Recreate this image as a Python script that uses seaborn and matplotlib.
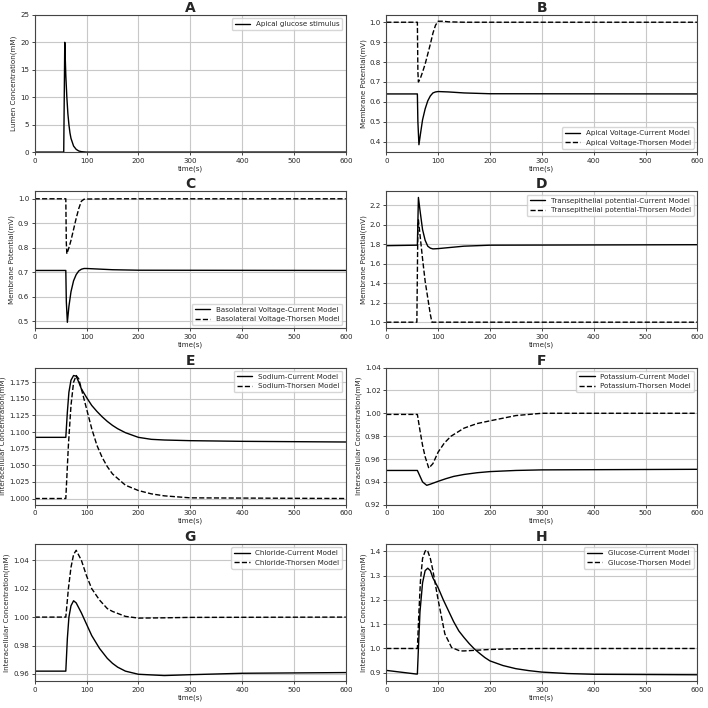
import numpy as np
import pandas as pd
import matplotlib
matplotlib.use("Agg")
import matplotlib.pyplot as plt
import seaborn as sns

###### Data

# A - apical glucose stimulus
t_stim = [0, 56, 58, 60, 62, 64, 66, 68, 70, 75, 80, 85, 90, 100, 600]
stim = [0, 0, 20, 14, 10, 7, 5, 3.5, 2.5, 1.1, 0.5, 0.2, 0.08, 0, 0]

# B - apical voltage
t_ap_cur = [0, 60, 61, 63, 66, 70, 75, 80, 85, 90, 95, 100, 120, 150, 200, 600]
ap_cur = [0.64, 0.64, 0.50, 0.385, 0.44, 0.51, 0.565, 0.605, 0.63, 0.645, 0.65, 0.652, 0.65, 0.645, 0.641, 0.64]
t_ap_tho = [0, 60, 61, 62, 66, 70, 75, 80, 85, 90, 95, 100, 110, 120, 150, 600]
ap_tho = [1.0, 1.0, 0.75, 0.70, 0.72, 0.75, 0.79, 0.84, 0.89, 0.945, 0.985, 1.005, 1.005, 1.002, 1.0, 1.0]

# C - basolateral voltage
t_bl_cur = [0, 60, 61, 63, 66, 70, 75, 80, 85, 90, 95, 100, 120, 150, 200, 600]
bl_cur = [0.707, 0.707, 0.58, 0.495, 0.56, 0.62, 0.665, 0.69, 0.705, 0.712, 0.715, 0.715, 0.713, 0.71, 0.708, 0.707]
t_bl_tho = [0, 60, 61, 62, 66, 70, 75, 80, 85, 90, 95, 100, 150, 600]
bl_tho = [1.0, 1.0, 0.82, 0.775, 0.80, 0.83, 0.875, 0.92, 0.96, 0.99, 0.998, 0.999, 1.0, 1.0]

# D - transepithelial potential
t_te_cur = [0, 58, 60, 62, 65, 70, 75, 80, 85, 90, 100, 120, 150, 200, 600]
te_cur = [1.785, 1.79, 1.79, 2.28, 2.15, 1.95, 1.84, 1.78, 1.76, 1.752, 1.755, 1.765, 1.78, 1.79, 1.795]
t_te_tho = [0, 59, 61, 62, 65, 70, 75, 80, 85, 88, 600]
te_tho = [1.0, 1.0, 2.0, 2.05, 1.9, 1.65, 1.42, 1.25, 1.08, 1.0, 1.0]

# E - sodium
t_na_cur = [0, 60, 63, 66, 70, 75, 80, 85, 90, 100, 110, 120, 130, 140, 150, 160, 175, 200, 225, 250, 300, 400, 600]
na_cur = [1.092, 1.092, 1.13, 1.16, 1.178, 1.185, 1.184, 1.175, 1.165, 1.152, 1.14, 1.131, 1.123, 1.116, 1.11, 1.105, 1.099, 1.092, 1.089, 1.088, 1.087, 1.086, 1.085]
t_na_tho = [0, 60, 65, 70, 75, 80, 85, 90, 100, 110, 120, 130, 140, 150, 175, 200, 225, 250, 300, 600]
na_tho = [1.0, 1.0, 1.08, 1.14, 1.175, 1.185, 1.18, 1.165, 1.135, 1.105, 1.08, 1.062, 1.048, 1.037, 1.02, 1.012, 1.007, 1.004, 1.001, 1.0]

# F - potassium
t_k_cur = [0, 60, 65, 70, 78, 85, 100, 115, 130, 150, 175, 200, 250, 300, 600]
k_cur = [0.95, 0.95, 0.945, 0.94, 0.937, 0.938, 0.9405, 0.9428, 0.9448, 0.9465, 0.948, 0.949, 0.9500, 0.9505, 0.951]
t_k_tho = [0, 60, 65, 70, 75, 82, 90, 100, 112, 125, 150, 175, 200, 250, 300, 600]
k_tho = [0.999, 0.999, 0.985, 0.972, 0.962, 0.952, 0.956, 0.966, 0.974, 0.980, 0.987, 0.991, 0.9934, 0.998, 1.0, 1.0]

# G - chloride
t_cl_cur = [0, 60, 63, 66, 70, 75, 80, 90, 100, 110, 125, 140, 150, 160, 175, 200, 250, 300, 400, 600]
cl_cur = [0.962, 0.962, 0.985, 1.0, 1.008, 1.0115, 1.01, 1.003, 0.995, 0.987, 0.978, 0.971, 0.9675, 0.9648, 0.962, 0.9598, 0.9589, 0.9595, 0.9605, 0.961]
t_cl_tho = [0, 60, 65, 70, 75, 80, 90, 100, 110, 125, 140, 150, 175, 200, 250, 300, 600]
cl_tho = [1.0, 1.0, 1.02, 1.035, 1.044, 1.047, 1.04, 1.029, 1.02, 1.012, 1.006, 1.004, 1.0005, 0.9993, 0.9995, 0.9998, 1.0]

# H - glucose
t_glc_cur = [0, 58, 60, 62, 65, 70, 75, 80, 85, 90, 100, 110, 120, 130, 140, 150, 160, 170, 180, 190, 200, 225, 250, 275, 300, 350, 400, 600]
glc_cur = [0.91, 0.895, 0.895, 1.0, 1.15, 1.27, 1.32, 1.33, 1.32, 1.29, 1.25, 1.20, 1.155, 1.11, 1.072, 1.045, 1.02, 0.998, 0.98, 0.963, 0.949, 0.93, 0.917, 0.909, 0.903, 0.897, 0.894, 0.892]
t_glc_tho = [0, 60, 63, 66, 70, 75, 78, 80, 85, 90, 100, 113, 126, 142, 150, 175, 200, 250, 300, 600]
glc_tho = [1.0, 1.0, 1.15, 1.28, 1.37, 1.40, 1.405, 1.40, 1.37, 1.32, 1.20, 1.06, 1.004, 0.99, 0.99, 0.993, 0.996, 0.999, 1.0, 1.0]

titles = ["A", "B", "C", "D", "E", "F", "G", "H"]


sns.set_style("ticks")
plt.rcParams["font.family"] = ["DejaVu Sans"]

fig, axes = plt.subplots(4, 2, figsize=(7.08, 7.08), dpi=100)
fig.subplots_adjust(left=0.049, right=0.985, top=0.979, bottom=0.038,
                    wspace=0.13, hspace=0.285)
axes = axes.ravel()

FS = 5.1


def draw(ax, title, ylabel, cur, tho=None, loc="upper right"):
    t, y, lab = cur
    sns.lineplot(x=t, y=y, ax=ax, color="black", lw=1.0, label=lab)
    if tho is not None:
        t2, y2, lab2 = tho
        sns.lineplot(x=t2, y=y2, ax=ax, color="black", lw=1.0,
                     linestyle="--", label=lab2)
    ax.set_xlim(0, 600)
    ax.set_xticks(np.arange(0, 601, 100))
    ax.grid(True, color="#c8c8c8", lw=0.8)
    ax.set_title(title, fontsize=10, fontweight="bold", pad=2)
    ax.set_xlabel("time(s)", fontsize=FS, labelpad=1)
    ax.set_ylabel(ylabel, fontsize=FS, labelpad=2)
    ax.tick_params(labelsize=FS, length=2.5, width=0.6, pad=1.5)
    for s in ax.spines.values():
        s.set_color("#444444")
        s.set_linewidth(0.8)
    ax.legend(loc=loc, fontsize=FS, frameon=True, fancybox=True,
              edgecolor="0.8", handlelength=2.2)


mv = "Membrane Potential(mV)"
ic = "Interacellular Concentration(mM)"

draw(axes[0], "A", "Lumen Concentration(mM)", (t_stim, stim, "Apical glucose stimulus"))
axes[0].set_ylim(0, 25)
axes[0].set_yticks(np.arange(0, 26, 5))

draw(axes[1], "B", mv, (t_ap_cur, ap_cur, "Apical Voltage-Current Model"),
     (t_ap_tho, ap_tho, "Apical Voltage-Thorsen Model"), loc="lower right")
axes[1].set_ylim(0.348, 1.037)
axes[1].set_yticks(np.arange(0.4, 1.01, 0.1))

draw(axes[2], "C", mv, (t_bl_cur, bl_cur, "Basolateral Voltage-Current Model"),
     (t_bl_tho, bl_tho, "Basolateral Voltage-Thorsen Model"), loc="lower right")
axes[2].set_ylim(0.47, 1.031)
axes[2].set_yticks(np.arange(0.5, 1.01, 0.1))

draw(axes[3], "D", mv, (t_te_cur, te_cur, "Transepithelial potential-Current Model"),
     (t_te_tho, te_tho, "Transepithelial potential-Thorsen Model"))
axes[3].set_ylim(0.936, 2.344)
axes[3].set_yticks(np.arange(1.0, 2.21, 0.2))

draw(axes[4], "E", ic, (t_na_cur, na_cur, "Sodium-Current Model"),
     (t_na_tho, na_tho, "Sodium-Thorsen Model"))
axes[4].set_ylim(0.9906, 1.197)
axes[4].set_yticks(np.arange(1.0, 1.176, 0.025))
axes[4].yaxis.set_major_formatter(matplotlib.ticker.FormatStrFormatter("%.3f"))

draw(axes[5], "F", ic, (t_k_cur, k_cur, "Potassium-Current Model"),
     (t_k_tho, k_tho, "Potassium-Thorsen Model"))
axes[5].set_ylim(0.92, 1.04)
axes[5].set_yticks(np.arange(0.92, 1.041, 0.02))
axes[5].yaxis.set_major_formatter(matplotlib.ticker.FormatStrFormatter("%.2f"))

draw(axes[6], "G", ic, (t_cl_cur, cl_cur, "Chloride-Current Model"),
     (t_cl_tho, cl_tho, "Chloride-Thorsen Model"))
axes[6].set_ylim(0.955, 1.0515)
axes[6].set_yticks(np.arange(0.96, 1.041, 0.02))
axes[6].yaxis.set_major_formatter(matplotlib.ticker.FormatStrFormatter("%.2f"))

draw(axes[7], "H", ic, (t_glc_cur, glc_cur, "Glucose-Current Model"),
     (t_glc_tho, glc_tho, "Glucose-Thorsen Model"))
axes[7].set_ylim(0.866, 1.43)
axes[7].set_yticks(np.arange(0.9, 1.41, 0.1))

fig.savefig("out.png", dpi=100)
